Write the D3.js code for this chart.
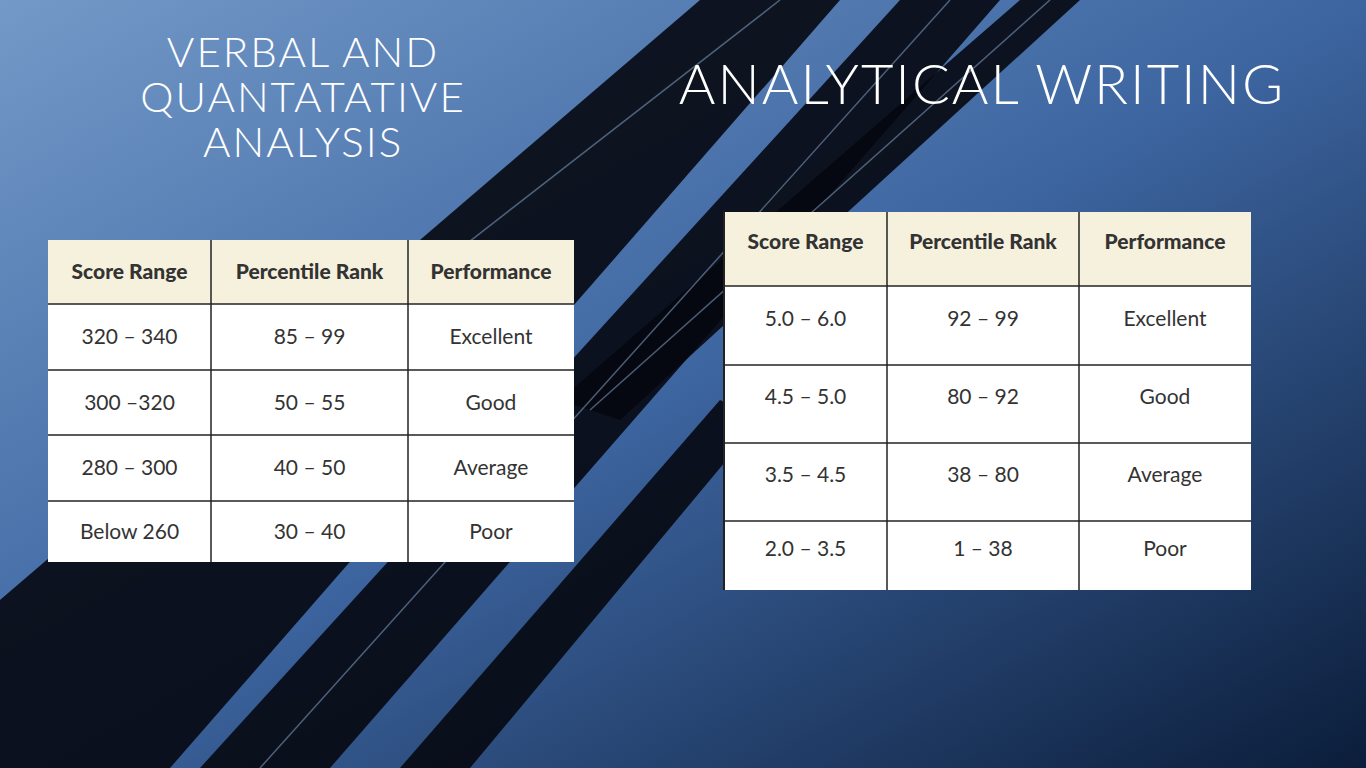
<!DOCTYPE html>
<html><head><meta charset="utf-8">
<script src="https://cdn.jsdelivr.net/npm/d3@7"></script>
<style>body{margin:0;overflow:hidden}</style>
</head><body><div id="slide"></div>
<script>
var width = 1366, height = 768;
var header = ["Score Range", "Percentile Rank", "Performance"];
var verbalScores = ["320 – 340", "300 –320", "280 – 300", "Below 260"];
var verbalPercentiles = ["85 – 99", "50 – 55", "40 – 50", "30 – 40"];
var awScores = ["5.0 – 6.0", "4.5 – 5.0", "3.5 – 4.5", "2.0 – 3.5"];
var awPercentiles = ["92 – 99", "80 – 92", "38 – 80", "1 – 38"];
var performance = ["Excellent", "Good", "Average", "Poor"];

var svg = d3.select("#slide").append("svg").attr("width", width).attr("height", height);
var defs = svg.append("defs");
var g = defs.append("linearGradient").attr("id", "bg").attr("x1", 0).attr("y1", 0).attr("x2", 1).attr("y2", 1);
g.append("stop").attr("offset", 0).attr("stop-color", "#7399c8");
g.append("stop").attr("offset", 0.5).attr("stop-color", "#3d65a0");
g.append("stop").attr("offset", 1).attr("stop-color", "#0b1d3a");
svg.append("rect").attr("width", width).attr("height", height).attr("fill", "url(#bg)");

// dark diagonal bands
var bands = [
  [[0,600],[0,768],[170,768],[840,0],[700,0]],
  [[200,768],[330,768],[1000,0],[900,0]],
  [[560,400],[620,420],[1080,0],[1020,0]],
  [[400,768],[470,768],[760,420],[720,400]]
];
svg.selectAll("path.band").data(bands).enter().append("path")
  .attr("d", function(d){ return d3.line()(d) + "Z"; })
  .attr("fill", "#05080f").attr("opacity", 0.9);
svg.selectAll("path.glint").data([[[60,560],[780,0]],[[260,768],[950,0]],[[590,410],[1050,0]]]).enter().append("path")
  .attr("d", d3.line()).attr("stroke", "#8fb0d8").attr("stroke-width", 1.5).attr("opacity", 0.5);

function title(lines, cx, y0, lh, size) {
  lines.forEach(function(d, i){
    svg.append("text").attr("text-anchor", "middle").attr("fill", "#fff")
      .attr("font-family", "Lato").attr("font-weight", 300).attr("font-size", size)
      .attr("letter-spacing", 2)
      .attr("x", cx).attr("y", y0 + i * lh).text(d);
  });
}
title(["VERBAL AND", "QUANTATATIVE", "ANALYSIS"], 303, 67, 45, 42);
title(["ANALYTICAL WRITING"], 982, 104, 0, 56);

function table(cols, rows, scores, pcts, dy) {
  var data = scores.map(function(s, i){ return [s, pcts[i], performance[i]]; });
  var tg = svg.append("g");
  tg.append("rect").attr("x", cols[0]).attr("y", rows[0]).attr("width", cols[3]-cols[0]).attr("height", rows[1]-rows[0]).attr("fill", "#f6f1dc");
  tg.append("rect").attr("x", cols[0]).attr("y", rows[1]).attr("width", cols[3]-cols[0]).attr("height", rows[rows.length-1]-rows[1]).attr("fill", "#fff");
  rows.slice(1, -1).forEach(function(y){
    tg.append("line").attr("x1", cols[0]).attr("x2", cols[3]).attr("y1", y).attr("y2", y).attr("stroke", "#222").attr("stroke-width", 1.5);
  });
  cols.slice(1, 3).forEach(function(c){
    tg.append("line").attr("x1", c).attr("x2", c).attr("y1", rows[0]).attr("y2", rows[rows.length-1]).attr("stroke", "#222").attr("stroke-width", 1.5);
  });
  header.forEach(function(h, j){
    tg.append("text").attr("x", (cols[j]+cols[j+1])/2).attr("y", (rows[0]+rows[1])/2 + 7 - dy)
      .attr("text-anchor", "middle").attr("font-family", "Lato").attr("font-weight", 900)
      .attr("font-size", 21).attr("fill", "#333").text(h);
  });
  data.forEach(function(r, i){
    r.forEach(function(v, j){
      tg.append("text").attr("x", (cols[j]+cols[j+1])/2).attr("y", (rows[i+1]+rows[i+2])/2 + 7 - dy)
        .attr("text-anchor", "middle").attr("font-family", "Lato")
        .attr("font-size", 21).attr("fill", "#333").text(v);
    });
  });
}
table([48, 211, 408, 574], [240, 304, 370, 435, 501, 562], verbalScores, verbalPercentiles, 0);
table([724, 887, 1079, 1251], [212, 286, 365, 443, 521, 590], awScores, awPercentiles, 7);
svg.append("line").attr("x1", 724).attr("x2", 724).attr("y1", 212).attr("y2", 590).attr("stroke", "#222").attr("stroke-width", 2);
</script></body></html>
